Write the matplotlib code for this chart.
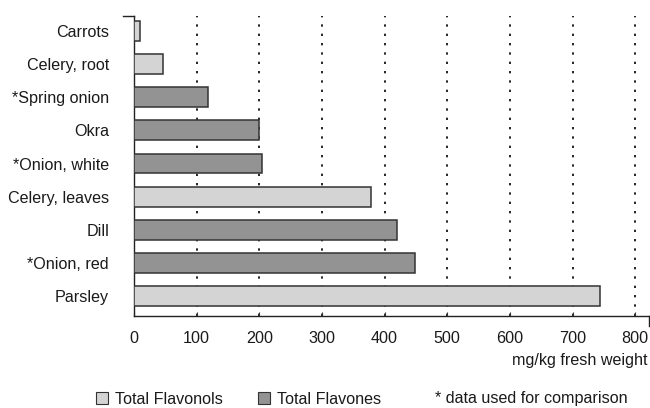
import matplotlib

matplotlib.use("Agg")

import matplotlib.pyplot as plt
from matplotlib.patches import Patch

categories = ["Carrots", "Celery, root", "*Spring onion", "Okra", "*Onion, white",
              "Celery, leaves", "Dill", "*Onion, red", "Parsley"]
values = [9, 46, 118, 200, 204, 379, 419, 449, 743]
groups = ["Flavonols", "Flavonols", "Flavones", "Flavones", "Flavones",
          "Flavonols", "Flavones", "Flavones", "Flavonols"]
xticks = [0, 100, 200, 300, 400, 500, 600, 700, 800]

LIGHT = "#d4d4d4"
DARK = "#939393"
EDGE = "#333333"
TXT = "#1a1a1a"
FS = 11.6

plt.rcParams.update({"font.family": ["Liberation Sans", "DejaVu Sans"], "font.size": FS,
                     "text.color": TXT, "xtick.color": TXT, "ytick.color": TXT})

fig = plt.figure(figsize=(6.5, 4.08), dpi=100)
ax = fig.add_axes([134 / 650, 1 - 316 / 408, (649 - 134) / 650, 300 / 408])

colors = [LIGHT if g == "Flavonols" else DARK for g in groups]
ypos = list(range(len(categories)))
ax.barh(ypos, values, height=0.6, color=colors, edgecolor=EDGE, linewidth=1.1, zorder=3)

ax.set_xlim(0, 822)
ax.set_ylim(8.6, -0.45)
ax.set_yticks(ypos)
ax.set_yticklabels(categories)
ax.tick_params(axis="y", length=0, pad=18)
ax.set_xticks(xticks)
ax.tick_params(axis="x", direction="in", length=3, width=0.8, color=EDGE, pad=11)

for v in xticks[1:]:
    ax.axvline(v, color="black", linewidth=1.2, linestyle=(0, (1.4, 4.2)), zorder=1)

for s in ["top", "right"]:
    ax.spines[s].set_visible(False)
for s in ["left", "bottom"]:
    ax.spines[s].set_color("#222222")
    ax.spines[s].set_linewidth(1.0)

# small end marks of the axes
ax.plot([-11 / 515, 0], [1, 1], transform=ax.transAxes, color="#222222", lw=1.0, clip_on=False)
ax.plot([1, 1], [0, -10 / 300], transform=ax.transAxes, color="#222222", lw=1.0, clip_on=False)

fig.text(648 / 650, 1 - 361 / 408, "mg/kg fresh weight", ha="right", va="center", fontsize=FS)

handles = [Patch(facecolor=LIGHT, edgecolor=EDGE, linewidth=0.8, label="Total Flavonols"),
           Patch(facecolor=DARK, edgecolor=EDGE, linewidth=0.8, label="Total Flavones")]
fig.legend(handles=handles, loc="center left", bbox_to_anchor=(96 / 650, 1 - 399 / 408),
           ncol=2, frameon=False, fontsize=FS, handlelength=0.74, handleheight=0.74,
           handletextpad=0.45, columnspacing=2.15, borderaxespad=0, borderpad=0)
fig.text(435 / 650, 1 - 399 / 408, "* data used for comparison", ha="left", va="center", fontsize=FS)

fig.savefig("out.png", dpi=100)
